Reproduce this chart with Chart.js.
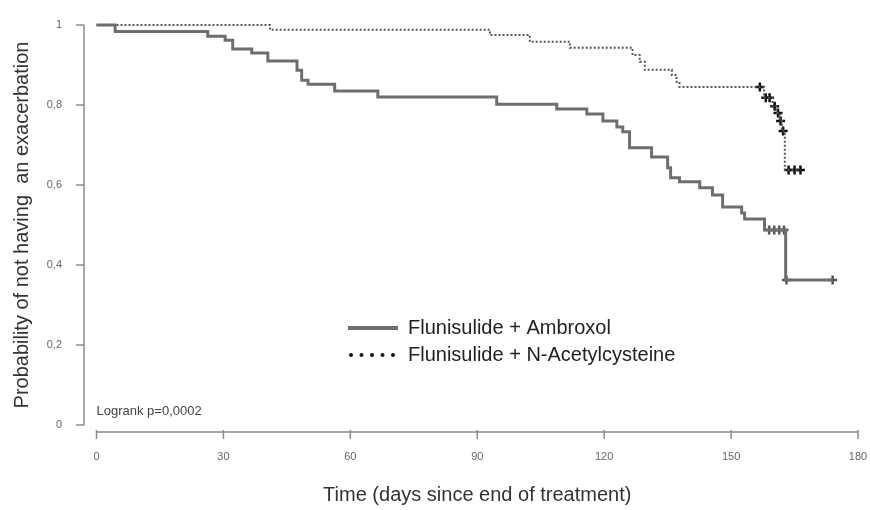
<!DOCTYPE html>
<html>
<head>
<meta charset="utf-8">
<script src="https://cdn.jsdelivr.net/npm/chart.js@4.4.1/dist/chart.umd.min.js"></script>
<style>
  html, body { margin: 0; padding: 0; background: #fff; }
  #wrap { width: 870px; height: 510px; }
</style>
</head>
<body>
<div id="wrap"><canvas id="kmChart"></canvas></div>
<script>
// Kaplan-Meier steps (day, survival after the event)
var ambroxolDays = [0, 4.4, 26.3, 30.4, 32.2, 36.7, 40.5, 47.4, 48.5, 50.0, 56.3, 66.5, 94.6, 108.8, 115.9, 119.7, 123.0, 124.4, 126.0, 131.2, 135.0, 135.7, 137.8, 142.6, 145.6, 148.0, 152.5, 153.2, 157.9, 162.9, 174.0]
var ambroxolSurv = [1, 0.984, 0.972, 0.962, 0.94, 0.93, 0.91, 0.887, 0.862, 0.852, 0.835, 0.82, 0.802, 0.79, 0.7775, 0.76, 0.745, 0.733, 0.693, 0.67, 0.643, 0.618, 0.608, 0.593, 0.575, 0.545, 0.53, 0.515, 0.4875, 0.3625, 0.3625]

var nacDays = [0, 41.0, 93.0, 102.4, 111.9, 126.7, 128.4, 129.6, 136.0, 137.1, 137.8, 157.8, 159.8, 160.8, 161.5, 162.0, 162.7, 166.4]
var nacSurv = [1, 0.988, 0.975, 0.958, 0.943, 0.925, 0.908, 0.888, 0.875, 0.858, 0.845, 0.818, 0.797, 0.78, 0.76, 0.735, 0.6375, 0.6375]

// censored observations
var ambroxolCensDays = [159.0, 160.2, 161.4, 162.5, 163.1, 174.0]
var ambroxolCensSurv = [0.4875, 0.4875, 0.4875, 0.4875, 0.3625, 0.3625]
var nacCensDays = [156.8, 158.2, 159.1, 160.3, 161.1, 161.7, 162.3, 163.6, 165.0, 166.4]
var nacCensSurv = [0.845, 0.818, 0.818, 0.797, 0.78, 0.76, 0.735, 0.6375, 0.6375, 0.6375]

var seriesNames = ['Flunisulide + Ambroxol', 'Flunisulide + N-Acetylcysteine']
var xTicks = [0, 30, 60, 90, 120, 150, 180]
var yTicks = [0, 0.2, 0.4, 0.6, 0.8, 1]
var yTickLabels = ['0', '0,2', '0,4', '0,6', '0,8', '1']
var logrankText = 'Logrank p=0,0002'

var FONT = '"Liberation Sans", Arial, sans-serif'

function toPoints(xs, ys) {
    return xs.map(function (d, i) { return {x: d, y: ys[i]} })
}

function noPad(s) {
    s.paddingLeft = 0
    s.paddingRight = 0
    s.paddingTop = 0
    s.paddingBottom = 0
}

// draws the offset axes, the p-value note and the legend
var kmDecor = {
    id: 'kmDecor',
    afterDraw: function (chart) {
        var ctx = chart.ctx
        var area = chart.chartArea
        var x = chart.scales.x
        var y = chart.scales.y
        ctx.save()

        ctx.strokeStyle = '#8c8c8c'
        ctx.lineWidth = 1.5
        ctx.beginPath()
        var ax = area.left - 12.5
        ctx.moveTo(ax, y.getPixelForValue(1))
        ctx.lineTo(ax, y.getPixelForValue(0))
        yTicks.forEach(function (v) {
            var py = y.getPixelForValue(v)
            ctx.moveTo(ax - 8, py)
            ctx.lineTo(ax, py)
        })
        var ay = area.bottom + 7
        ctx.moveTo(x.getPixelForValue(0), ay)
        ctx.lineTo(x.getPixelForValue(180), ay)
        xTicks.forEach(function (v) {
            var px = x.getPixelForValue(v)
            ctx.moveTo(px, ay - 2)
            ctx.lineTo(px, ay + 7)
        })
        ctx.stroke()

        ctx.fillStyle = '#444'
        ctx.font = '13px ' + FONT
        ctx.textBaseline = 'middle'
        ctx.textAlign = 'left'
        ctx.fillText(logrankText, x.getPixelForValue(0), 411)

        // legend
        var lx = 348, ly = 328
        ctx.strokeStyle = '#6e6e6e'
        ctx.lineWidth = 4
        ctx.beginPath()
        ctx.moveTo(lx, ly)
        ctx.lineTo(lx + 50, ly)
        ctx.stroke()
        ctx.fillStyle = '#111'
        for (var i = 0; i < 5; i++) {
            ctx.beginPath()
            ctx.arc(lx + 3 + i * 10.5, ly + 27, 2, 0, Math.PI * 2)
            ctx.fill()
        }
        ctx.fillStyle = '#222'
        ctx.font = '20px ' + FONT
        ctx.fillText(seriesNames[0], lx + 60, ly)
        ctx.fillText(seriesNames[1], lx + 60, ly + 27)
        ctx.restore()
    }
}

var myChart = new Chart(document.getElementById('kmChart').getContext('2d'), {
    type: 'line',
    data: {
        datasets: [{
            label: seriesNames[0],
            data: toPoints(ambroxolDays, ambroxolSurv),
            stepped: 'before',
            borderColor: '#6e6e6e',
            borderWidth: 3,
            pointRadius: 0,
            fill: false,
            clip: 8
        }, {
            label: seriesNames[1],
            data: toPoints(nacDays, nacSurv),
            stepped: 'before',
            borderColor: '#555',
            borderWidth: 2,
            borderDash: [2, 2],
            pointRadius: 0,
            fill: false,
            clip: 8
        }, {
            label: 'censored A',
            data: toPoints(ambroxolCensDays, ambroxolCensSurv),
            showLine: false,
            pointStyle: 'cross',
            pointRadius: 4.5,
            pointBorderWidth: 2.5,
            pointBorderColor: '#555',
            clip: 8
        }, {
            label: 'censored N',
            data: toPoints(nacCensDays, nacCensSurv),
            showLine: false,
            pointStyle: 'cross',
            pointRadius: 4.5,
            pointBorderWidth: 2.5,
            pointBorderColor: '#111',
            clip: 8
        }]
    },
    options: {
        responsive: true,
        maintainAspectRatio: false,
        animation: false,
        layout: {padding: {top: 25, right: 12, left: 0, bottom: 0}},
        plugins: {legend: {display: false}, tooltip: {enabled: false}},
        scales: {
            x: {
                type: 'linear',
                min: 0,
                max: 180,
                afterFit: function (s) { s.height = 85; noPad(s) },
                afterBuildTicks: function (s) { s.ticks = xTicks.map(function (v) { return {value: v} }) },
                grid: {display: false},
                border: {display: false},
                ticks: {color: '#666', font: {size: 11, family: FONT}, padding: 17.5, maxRotation: 0},
                title: {display: true, text: 'Time (days since end of treatment)', color: '#333',
                    font: {size: 20, family: FONT}, padding: {top: 0, bottom: 3}}
            },
            y: {
                min: 0,
                max: 1,
                afterFit: function (s) { s.width = 96.5; noPad(s) },
                afterBuildTicks: function (s) { s.ticks = yTicks.map(function (v) { return {value: v} }) },
                grid: {display: false},
                border: {display: false},
                ticks: {color: '#666', font: {size: 11, family: FONT}, padding: 26.5,
                    callback: function (v, i) { return yTickLabels[i] }},
                title: {display: true, text: 'Probability of not having  an exacerbation', color: '#333',
                    font: {size: 20, family: FONT}, padding: {top: 10, bottom: 0}}
            }
        }
    },
    plugins: [kmDecor]
})
</script>
</body>
</html>
